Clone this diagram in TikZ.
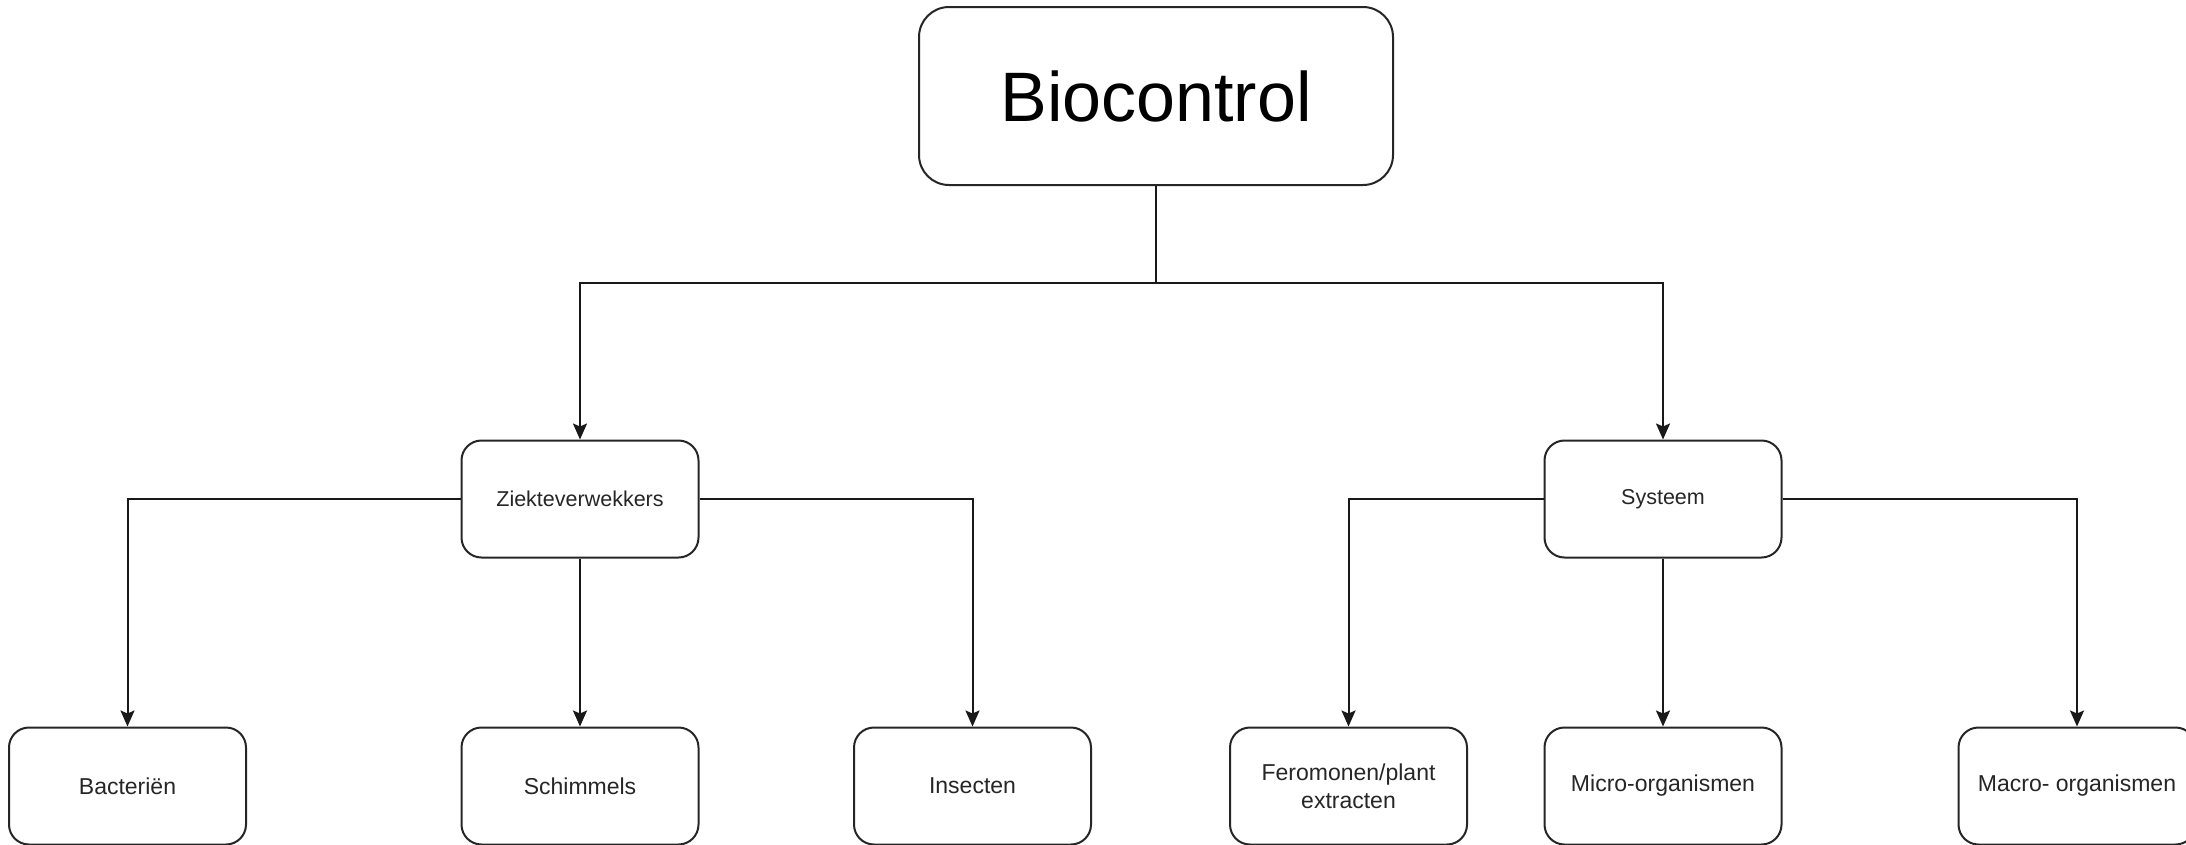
\documentclass[tikz,border=0pt]{standalone}
\usepackage{fontspec}
\setmainfont{Liberation Sans}
\usetikzlibrary{arrows.meta}
\tikzset{
  box/.style={draw=black!85, line width=2pt, rounded corners=20pt, minimum width=237pt, minimum height=117pt, inner sep=0pt, align=center, text=black!85, font=\fontsize{23}{28}\selectfont},
  midbox/.style={box, font=\fontsize{21.5}{26}\selectfont},
  topbox/.style={draw=black!85, line width=2pt, rounded corners=30pt, minimum width=474pt, minimum height=178pt, inner sep=0pt, font=\fontsize{70}{84}\selectfont},
  conn/.style={draw=black!90, line width=2pt},
  arr/.style={conn, -{Stealth[length=16pt, width=14pt, inset=3pt]}}
}
\begin{document}
\begin{tikzpicture}[x=1pt,y=-1pt]
\useasboundingbox[fill=white] (0,0) rectangle (2186,844);
\node[topbox] (bio) at (1156,96) {Biocontrol};
\node[midbox] (zk) at (580,499) {Ziekteverwekkers};
\node[midbox] (sys) at (1663,499) {Systeem};
\node[box] (bac) at (127.5,786) {Bacteriën};
\node[box] (sch) at (580,786) {Schimmels};
\node[box] (ins) at (972.5,786) {Insecten};
\node[box] (fer) at (1348.5,786) {Feromonen/plant\\extracten};
\node[box] (mic) at (1663,786) {Micro-organismen};
\node[box] (mac) at (2077,786) {Macro- organismen};
\coordinate (j) at (1156,283);
\draw[conn] (bio.south) -- (j);
\draw[arr] (j) -| (zk.north);
\draw[arr] (j) -| (sys.north);
\draw[arr] (zk.west) -| (bac.north);
\draw[arr] (zk.south) -- (sch.north);
\draw[arr] (zk.east) -| (ins.north);
\draw[arr] (sys.west) -| (fer.north);
\draw[arr] (sys.south) -- (mic.north);
\draw[arr] (sys.east) -| (mac.north);
\end{tikzpicture}
\end{document}
